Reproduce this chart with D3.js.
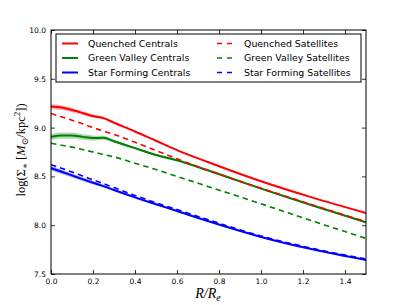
<!DOCTYPE html>
<html><head><meta charset="utf-8">
<script src="https://cdn.jsdelivr.net/npm/d3@7"></script>
<style>body{margin:0;background:#fff}svg{display:block}</style>
</head><body><svg id="c" width="407" height="305"></svg>
<script>
const radius = [0, 0.05, 0.1, 0.15, 0.2, 0.25, 0.3, 0.4, 0.5, 0.6, 0.75, 1.0, 1.25, 1.5];
const quenchedCentrals   = [9.215, 9.205, 9.18, 9.15, 9.118, 9.097, 9.05, 8.96, 8.865, 8.77, 8.645, 8.45, 8.28, 8.125];
const greenCentrals      = [8.905, 8.918, 8.918, 8.905, 8.893, 8.895, 8.86, 8.79, 8.72, 8.665, 8.56, 8.375, 8.2, 8.03];
const sfCentrals         = [8.585, 8.548, 8.51, 8.472, 8.435, 8.40, 8.36, 8.285, 8.215, 8.145, 8.04, 7.88, 7.75, 7.643];
const quenchedSatellites = [9.145, 9.11, 9.075, 9.04, 9.0, 8.965, 8.93, 8.85, 8.765, 8.68, 8.56, 8.378, 8.205, 8.035];
const greenSatellites    = [8.84, 8.82, 8.80, 8.775, 8.75, 8.725, 8.70, 8.635, 8.57, 8.5, 8.395, 8.22, 8.04, 7.865];
const sfSatellites       = [8.62, 8.583, 8.545, 8.505, 8.465, 8.425, 8.385, 8.305, 8.23, 8.16, 8.055, 7.89, 7.76, 7.653];
const quenchedErr = [0.025, 0.025, 0.022, 0.02, 0.015, 0.012, 0.008, 0.006, 0.005, 0.005, 0.005, 0.005, 0.005, 0.005];
const greenErr    = [0.032, 0.032, 0.032, 0.03, 0.027, 0.022, 0.016, 0.012, 0.011, 0.01, 0.01, 0.01, 0.01, 0.01];
const sfErr       = [0.025, 0.023, 0.02, 0.019, 0.017, 0.015, 0.013, 0.011, 0.01, 0.008, 0.007, 0.006, 0.006, 0.006];
const seriesNames = ["Quenched Centrals", "Green Valley Centrals", "Star Forming Centrals",
                     "Quenched Satellites", "Green Valley Satellites", "Star Forming Satellites"];
const xTicks = [0.0, 0.2, 0.4, 0.6, 0.8, 1.0, 1.2, 1.4];
const yTicks = [7.5, 8.0, 8.5, 9.0, 9.5, 10.0];

const colors = ["#ff0000", "#008000", "#0000ff"];
const svg = d3.select("#c");
const L = 51, R = 366, T = 30, B = 274;
const x = d3.scaleLinear().domain([0, 1.5]).range([L, R]);
const y = d3.scaleLinear().domain([7.5, 10.0]).range([B, T]);

svg.append("defs").append("clipPath").attr("id", "clp")
  .append("rect").attr("x", L).attr("y", T).attr("width", R - L).attr("height", B - T);
const g = svg.append("g").attr("clip-path", "url(#clp)");

const centrals = [quenchedCentrals, greenCentrals, sfCentrals];
const satellites = [quenchedSatellites, greenSatellites, sfSatellites];
const errs = [quenchedErr, greenErr, sfErr];
const curve = d3.curveMonotoneX;

centrals.forEach((vals, i) => {
  const area = d3.area().x((d, j) => x(radius[j])).y0((d, j) => y(d - errs[i][j])).y1((d, j) => y(d + errs[i][j])).curve(curve);
  g.append("path").attr("d", area(vals)).attr("fill", colors[i]).attr("fill-opacity", 0.3).attr("stroke", "none");
  const line = d3.line().x((d, j) => x(radius[j])).y(d => y(d)).curve(curve);
  g.append("path").attr("d", line(vals)).attr("fill", "none").attr("stroke", colors[i]).attr("stroke-width", 2);
});
satellites.forEach((vals, i) => {
  const line = d3.line().x((d, j) => x(radius[j])).y(d => y(d)).curve(curve);
  g.append("path").attr("d", line(vals)).attr("fill", "none").attr("stroke", colors[i])
    .attr("stroke-width", 1.6).attr("stroke-dasharray", "5.5,4");
});

// axes (ticks inward)
const fontTick = "DejaVu Sans, sans-serif";
const axB = d3.axisBottom(x).tickValues(xTicks).tickFormat(d3.format(".1f")).tickSizeInner(-4).tickSizeOuter(0).tickPadding(5);
const axT = d3.axisTop(x).tickValues(xTicks).tickFormat("").tickSizeInner(-4).tickSizeOuter(0);
const axLft = d3.axisLeft(y).tickValues(yTicks).tickFormat(d3.format(".1f")).tickSizeInner(-4).tickSizeOuter(0).tickPadding(5);
const axRt = d3.axisRight(y).tickValues(yTicks).tickFormat("").tickSizeInner(-4).tickSizeOuter(0);
[[axB, `translate(0,${B})`], [axT, `translate(0,${T})`], [axLft, `translate(${L},0)`], [axRt, `translate(${R},0)`]].forEach(([a, t]) => {
  const ga = svg.append("g").attr("transform", t).call(a);
  ga.select(".domain").remove();
  ga.selectAll("line").attr("stroke", "#000").attr("stroke-width", 0.8);
  ga.selectAll("text").attr("font-family", fontTick).attr("font-size", 7.5).attr("fill", "#000");
});
svg.append("rect").attr("x", L).attr("y", T).attr("width", R - L).attr("height", B - T)
  .attr("fill", "none").attr("stroke", "#000").attr("stroke-width", 1);

// legend
const lg = svg.append("g");
lg.append("rect").attr("x", 56).attr("y", 34).attr("width", 305).attr("height", 48)
  .attr("fill", "#fff").attr("stroke", "#000").attr("stroke-width", 1);
seriesNames.forEach((name, k) => {
  const col = Math.floor(k / 3), row = k % 3;
  const lx = col === 0 ? 62 : 217, tx = col === 0 ? 88 : 244;
  const ly = 43.5 + row * 14.5;
  const ln = lg.append("line").attr("x1", lx).attr("x2", lx + 16).attr("y1", ly).attr("y2", ly)
    .attr("stroke", colors[row]).attr("stroke-width", col === 0 ? 2 : 1.6);
  if (col === 1) ln.attr("stroke-dasharray", "5,5");
  lg.append("text").attr("x", tx).attr("y", ly + 3.3).text(name)
    .attr("font-family", fontTick).attr("font-size", 9.4).attr("fill", "#000");
});

// axis labels
const serif = "Liberation Serif, DejaVu Serif, serif";
const xl = svg.append("text").attr("x", 208).attr("y", 298).attr("text-anchor", "middle")
  .attr("font-family", serif).attr("font-size", 14).attr("font-style", "italic");
xl.append("tspan").text("R/R");
xl.append("tspan").attr("font-size", 10).attr("dy", 3).text("e");

const yl = svg.append("text").attr("transform", "translate(25,150) rotate(-90)").attr("text-anchor", "middle")
  .attr("font-family", serif).attr("font-size", 12.5);
yl.append("tspan").text("log(Σ");
yl.append("tspan").attr("font-size", 9).attr("dy", 3).text("∗");
yl.append("tspan").attr("dy", -3).text(" [");
yl.append("tspan").attr("font-style", "italic").text("M");
yl.append("tspan").attr("font-size", 9).attr("dy", 3).text("⊙");
yl.append("tspan").attr("dy", -3).text("/kpc");
yl.append("tspan").attr("font-size", 9).attr("dy", -5).text("2");
yl.append("tspan").attr("dy", 5).text("])");
</script></body></html>
